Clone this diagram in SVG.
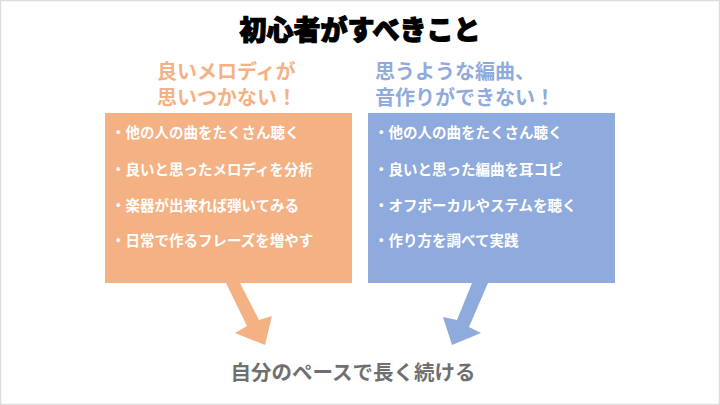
<svg xmlns="http://www.w3.org/2000/svg" width="720" height="405" viewBox="0 0 720 405">
<style>
text{font-family:"Noto Sans CJK JP","Noto Sans",sans-serif;font-weight:700}
.title{font-size:27px;fill:#000;stroke:#000;stroke-width:1.2;font-weight:900}
.hl{font-size:20px;fill:#F4B183}
.hb{font-size:20px;fill:#8FAADC}
.item{font-size:14.5px;fill:#fff}
.foot{font-size:20.5px;fill:#6f6f6f}
.orange{fill:#F4B183}
.blue{fill:#8FAADC}
</style>
<rect x="0.5" y="0.5" width="719" height="404" fill="#fff" stroke="#dcdcdc" stroke-width="1.5"/>
<g id="title"><text class="title" x="360" y="40" text-anchor="middle">初心者がすべきこと</text></g>
<g id="left-heading">
<text class="hl" x="157" y="79">良いメロディが</text>
<text class="hl" x="157" y="105">思いつかない！</text>
</g>
<g id="right-heading">
<text class="hb" x="375" y="79">思うような編曲、</text>
<text class="hb" x="375" y="105">音作りができない！</text>
</g>
<g id="left-box">
<rect class="orange" x="105" y="113" width="247" height="170"/>
<text class="item" x="111" y="138">・他の人の曲をたくさん聴く</text>
<text class="item" x="111" y="175">・良いと思ったメロディを分析</text>
<text class="item" x="111" y="211">・楽器が出来れば弾いてみる</text>
<text class="item" x="111" y="246">・日常で作るフレーズを増やす</text>
</g>
<g id="right-box">
<rect class="blue" x="368" y="113" width="247" height="170"/>
<text class="item" x="374" y="138">・他の人の曲をたくさん聴く</text>
<text class="item" x="374" y="175">・良いと思った編曲を耳コピ</text>
<text class="item" x="374" y="211">・オフボーカルやステムを聴く</text>
<text class="item" x="374" y="246">・作り方を調べて実践</text>
</g>
<g id="connectors">
<polygon class="orange" points="226,283 240,283 259,320 272,316 265,345 235,333 247,326"/>
<polygon class="blue" points="488,283 472,283 457,320 443,317 452,345 481,333 469,327"/>
</g>
<g id="footer"><text class="foot" x="353" y="380" text-anchor="middle">自分のペースで長く続ける</text></g>
</svg>
